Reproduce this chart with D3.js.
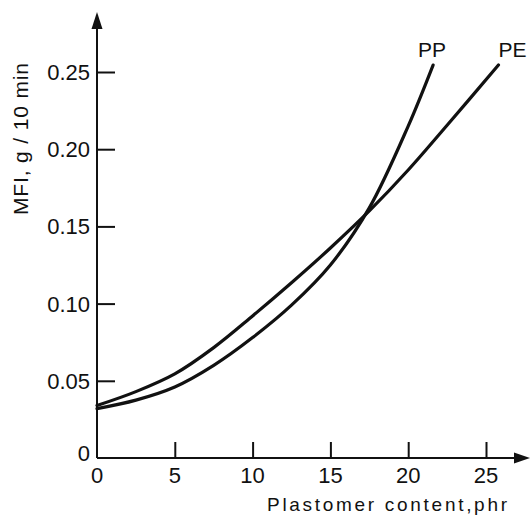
<!DOCTYPE html>
<html>
<head>
<meta charset="utf-8">
<script src="https://cdn.jsdelivr.net/npm/d3@7"></script>
<style>
  html, body { margin: 0; padding: 0; background: #fff; }
  svg { display: block; }
  text { font-family: "Liberation Sans", Arial, sans-serif; fill: #111; }
</style>
</head>
<body>
<svg id="chart" width="532" height="519"></svg>
<script>
// Data
const xTicks = [0, 5, 10, 15, 20, 25];
const yTicks = [0, 0.05, 0.10, 0.15, 0.20, 0.25];
const yTickLabels = ["0", "0.05", "0.10", "0.15", "0.20", "0.25"];

const peX = [0, 2.5, 5, 7.5, 10, 12.5, 15, 17.5, 20, 22.5, 25.8];
const peY = [0.034, 0.043, 0.0545, 0.0715, 0.092, 0.1135, 0.136, 0.160, 0.1865, 0.2155, 0.2545];
const ppX = [0, 2.5, 5, 7.5, 10, 12.5, 15, 17.5, 20, 21.6];
const ppY = [0.032, 0.0375, 0.046, 0.060, 0.078, 0.099, 0.125, 0.162, 0.215, 0.2545];

const seriesNames = ["PP", "PE"];
const xTitle = "Plastomer content,phr";
const yTitle = "MFI, g / 10 min";

const svg = d3.select("#chart");
const x = d3.scaleLinear().domain([0, 25]).range([97, 486]);
const y = d3.scaleLinear().domain([0, 0.25]).range([458, 72]);

// Axes lines
svg.append("line").attr("x1", x(0)).attr("x2", 520).attr("y1", y(0)).attr("y2", y(0))
  .attr("stroke", "#111").attr("stroke-width", 2);
svg.append("line").attr("x1", x(0)).attr("x2", x(0)).attr("y1", y(0)).attr("y2", 24)
  .attr("stroke", "#111").attr("stroke-width", 2);
// arrowheads
svg.append("path").attr("d", `M${x(0)},12 L${x(0)-5.5},29 L${x(0)+5.5},29 Z`).attr("fill", "#111");
svg.append("path").attr("d", `M530,${y(0)} L514,${y(0)-5.5} L514,${y(0)+5.5} Z`).attr("fill", "#111");

// Y ticks (inward)
const yAxis = d3.axisRight(y).tickValues(yTicks.slice(1)).tickSize(18).tickFormat("");
const gy = svg.append("g").attr("transform", `translate(${x(0)},0)`).call(yAxis);
gy.select(".domain").remove();
gy.selectAll(".tick line").attr("stroke", "#111").attr("stroke-width", 2);

// X ticks (inward, upward)
const xAxis = d3.axisTop(x).tickValues(xTicks.slice(1)).tickSize(16).tickFormat("");
const gx = svg.append("g").attr("transform", `translate(0,${y(0)})`).call(xAxis);
gx.select(".domain").remove();
gx.selectAll(".tick line").attr("stroke", "#111").attr("stroke-width", 2);

// Y tick labels
svg.append("g").selectAll("text").data(yTicks).join("text")
  .attr("x", 90).attr("y", (d, i) => y(d) + (i === 0 ? 3 : 8))
  .attr("text-anchor", "end").attr("font-size", 22)
  .text((d, i) => yTickLabels[i]);

// X tick labels
svg.append("g").selectAll("text").data(xTicks).join("text")
  .attr("x", d => x(d)).attr("y", 483)
  .attr("text-anchor", "middle").attr("font-size", 22)
  .text(d => d);

// Axis titles
svg.append("text").attr("x", 267).attr("y", 511).attr("font-size", 19)
  .attr("textLength", 240).attr("lengthAdjust", "spacing").text(xTitle);
svg.append("text").attr("transform", "translate(28,139) rotate(-90)")
  .attr("text-anchor", "middle").attr("font-size", 21)
  .attr("textLength", 152).attr("lengthAdjust", "spacing").text(yTitle);

// Curves
const line = d3.line().x(d => x(d[0])).y(d => y(d[1])).curve(d3.curveCatmullRom.alpha(0.5));
const peData = peX.map((v, i) => [v, peY[i]]);
const ppData = ppX.map((v, i) => [v, ppY[i]]);
svg.append("path").datum(peData).attr("d", line).attr("fill", "none")
  .attr("stroke", "#111").attr("stroke-width", 3.2).attr("stroke-linecap", "round");
svg.append("path").datum(ppData).attr("d", line).attr("fill", "none")
  .attr("stroke", "#111").attr("stroke-width", 3.2).attr("stroke-linecap", "round");

// Series labels
svg.append("text").attr("x", x(ppX[ppX.length-1]) - 15).attr("y", 57).attr("font-size", 21).text(seriesNames[0]);
svg.append("text").attr("x", x(peX[peX.length-1])).attr("y", 57).attr("font-size", 21).text(seriesNames[1]);
</script>
</body>
</html>
